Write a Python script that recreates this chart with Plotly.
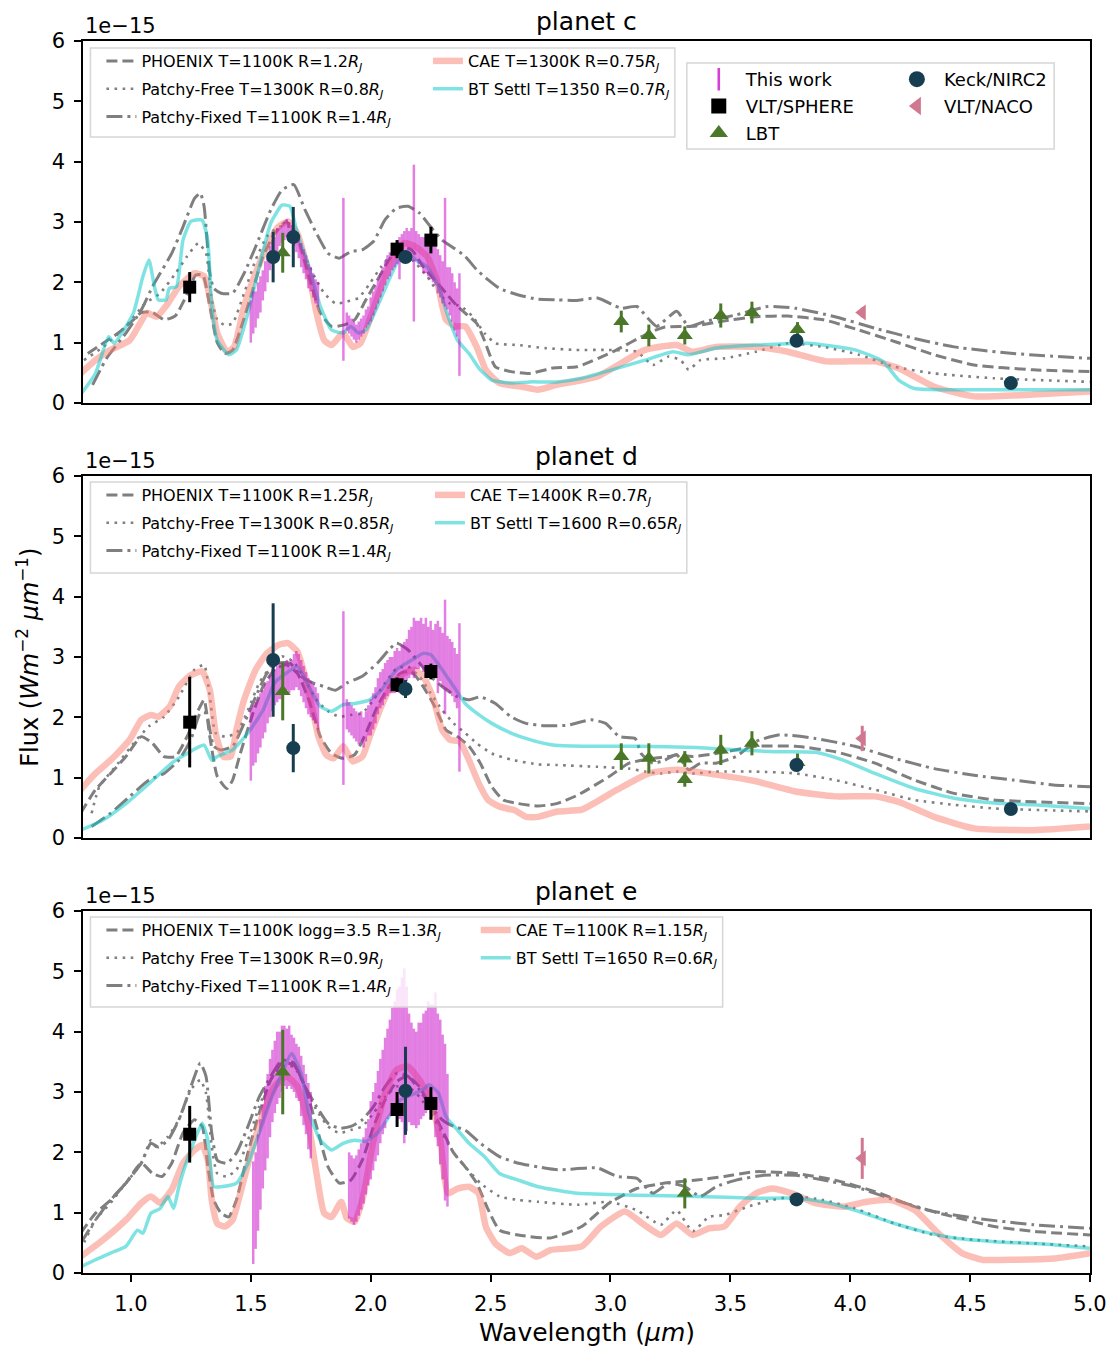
import plotly.graph_objects as go

# ---------------- DATA (flux in units of 1e-15 W m^-2 um^-1) ----------------
# ---- planet c : models ----
c_phoenix_wl = [0.82,0.884,0.947,1.011,1.043,1.09,1.138,1.186,1.234,1.27,1.3,1.329,1.36,1.392,1.424,1.456,1.504,1.551,1.599,1.647,1.694,1.742,1.79,1.837,1.885,1.933,1.98,2.028,2.076,2.124,2.17,2.219,2.267,2.314,2.362,2.394,2.442,2.474,2.52,2.585,2.664,2.76,2.86,3.01,3.16,3.227,3.342,3.458,3.607,3.74,3.888,4.036,4.185,4.35,4.516,4.764,5.0]
c_phoenix_f = [0.82,0.99,1.16,1.38,1.5,1.5,1.38,1.45,1.8,2.12,2.12,1.6,1.0,0.82,0.88,1.21,1.82,2.43,2.81,3.01,2.76,2.1,1.49,1.27,1.29,1.38,1.71,2.04,2.37,2.59,2.54,2.26,2.04,1.82,1.6,1.49,1.32,1.04,0.6,0.52,0.49,0.58,0.6,0.85,1.16,1.26,1.27,1.35,1.43,1.44,1.38,1.21,1.02,0.8,0.63,0.55,0.52]
c_pfree_wl = [0.804,0.884,0.979,1.059,1.122,1.186,1.234,1.281,1.313,1.337,1.36,1.392,1.424,1.472,1.52,1.567,1.615,1.663,1.71,1.758,1.806,1.853,1.901,1.949,1.996,2.044,2.092,2.14,2.187,2.235,2.283,2.33,2.378,2.426,2.474,2.52,2.616,2.727,2.855,2.98,3.11,3.177,3.243,3.293,3.326,3.375,3.475,3.607,3.74,3.888,4.036,4.185,4.35,4.6,5.0]
c_pfree_f = [0.71,0.93,1.27,1.65,1.82,2.15,2.43,2.65,2.48,1.71,1.38,1.29,1.32,1.82,2.37,2.76,2.92,2.92,2.59,2.15,1.82,1.65,1.68,1.74,1.98,2.26,2.48,2.48,2.32,2.1,1.82,1.65,1.6,1.43,1.16,0.99,0.96,0.91,0.88,0.88,0.85,0.63,0.77,0.71,0.55,0.71,0.74,0.85,0.99,0.93,0.8,0.6,0.49,0.41,0.35]
c_pfix_wl = [0.84,0.9,0.979,1.043,1.09,1.122,1.17,1.217,1.265,1.289,1.305,1.329,1.345,1.376,1.424,1.472,1.52,1.583,1.63,1.679,1.726,1.774,1.822,1.869,1.917,1.965,2.012,2.06,2.108,2.155,2.203,2.25,2.298,2.346,2.394,2.442,2.49,2.537,2.616,2.696,2.78,2.855,2.946,3.014,3.045,3.11,3.157,3.193,3.276,3.326,3.392,3.524,3.656,3.772,3.937,4.103,4.268,4.433,4.68,5.0]
c_pfix_f = [0.3,0.75,1.16,1.54,1.93,2.15,2.48,2.92,3.39,3.48,3.26,2.15,1.9,1.82,1.82,2.15,2.59,3.2,3.53,3.62,3.2,2.81,2.48,2.4,2.51,2.54,2.68,3.04,3.23,3.26,3.15,2.92,2.7,2.57,2.43,2.21,2.04,1.9,1.79,1.72,1.71,1.7,1.74,1.62,1.57,1.6,1.4,1.27,1.52,1.27,1.35,1.46,1.6,1.57,1.43,1.24,1.07,0.93,0.82,0.74]
c_cae_wl = [0.79,0.852,0.915,0.995,1.067,1.106,1.154,1.2,1.265,1.305,1.337,1.36,1.4,1.43,1.472,1.52,1.567,1.615,1.655,1.694,1.742,1.774,1.806,1.837,1.885,1.925,1.957,1.996,2.044,2.092,2.14,2.187,2.235,2.275,2.314,2.354,2.394,2.442,2.48,2.537,2.632,2.696,2.775,2.946,3.144,3.276,3.34,3.44,3.607,3.74,3.9,4.103,4.2,4.35,4.516,4.764,5.0]
c_cae_f = [0.49,0.71,0.88,1.04,1.49,1.43,1.65,1.93,2.15,2.1,1.6,1.16,0.85,0.93,1.6,2.15,2.59,2.92,3.01,2.81,2.15,1.49,1.04,0.96,1.16,0.93,0.99,1.38,1.93,2.37,2.65,2.59,2.43,2.04,1.38,1.27,1.27,0.93,0.55,0.33,0.27,0.22,0.3,0.44,0.88,0.96,0.85,0.93,0.93,0.85,0.69,0.69,0.58,0.27,0.11,0.14,0.19]
c_bt_wl = [0.79,0.852,0.907,0.93,1.01,1.05,1.075,1.098,1.114,1.146,1.16,1.19,1.217,1.25,1.297,1.32,1.337,1.36,1.408,1.44,1.488,1.535,1.583,1.63,1.663,1.694,1.742,1.79,1.837,1.885,1.917,1.949,1.98,2.028,2.076,2.116,2.155,2.187,2.235,2.283,2.323,2.362,2.41,2.457,2.505,2.585,2.664,2.775,2.88,3.144,3.26,3.326,3.44,3.607,3.82,4.02,4.136,4.202,4.268,4.516,5.0]
c_bt_f = [0.14,0.49,1.1,0.99,1.49,2.1,2.37,1.93,1.71,1.71,1.9,1.93,2.7,3.01,3.03,2.7,1.6,1.04,0.8,0.88,1.49,2.26,2.98,3.28,3.26,2.81,2.26,1.6,1.21,1.16,1.27,1.16,1.21,1.6,2.04,2.37,2.48,2.37,2.26,1.93,1.43,1.04,0.82,0.55,0.38,0.33,0.35,0.35,0.41,0.71,0.85,0.8,0.91,0.96,0.99,0.88,0.69,0.38,0.24,0.22,0.22]

# ---- planet d : models ----
d_phoenix_wl = [0.79,0.852,0.915,0.979,1.043,1.09,1.138,1.186,1.234,1.281,1.305,1.329,1.36,1.4,1.424,1.456,1.504,1.551,1.599,1.647,1.694,1.742,1.79,1.837,1.885,1.933,1.98,2.028,2.076,2.124,2.17,2.219,2.267,2.314,2.362,2.41,2.457,2.505,2.553,2.616,2.698,2.775,2.863,2.995,3.078,3.177,3.243,3.276,3.342,3.44,3.607,3.772,3.937,4.103,4.268,4.433,4.6,4.764,5.0]
d_phoenix_f = [0.41,0.8,1.07,1.35,1.68,1.57,1.35,1.35,1.68,2.12,2.29,1.68,1.02,0.82,0.96,1.4,2.01,2.51,2.79,2.87,2.73,2.29,1.68,1.4,1.32,1.38,1.74,2.18,2.51,2.73,2.76,2.51,2.18,1.79,1.68,1.52,1.24,0.85,0.63,0.57,0.53,0.57,0.71,1.02,1.24,1.32,1.35,1.38,1.35,1.4,1.52,1.52,1.43,1.24,0.96,0.74,0.63,0.6,0.57]
d_pfree_wl = [0.836,0.868,0.947,1.011,1.075,1.138,1.2,1.265,1.305,1.329,1.353,1.392,1.44,1.488,1.535,1.583,1.63,1.679,1.726,1.774,1.822,1.869,1.917,1.965,2.012,2.06,2.108,2.155,2.203,2.25,2.298,2.346,2.394,2.442,2.505,2.585,2.698,2.78,2.946,3.078,3.144,3.21,3.276,3.342,3.44,3.607,3.772,3.937,4.103,4.268,4.433,4.6,5.0]
d_pfree_f = [0.41,0.85,1.24,1.57,1.85,2.01,2.34,2.79,2.87,2.34,1.74,1.68,1.74,2.12,2.57,2.84,3.01,2.92,2.62,2.29,2.1,2.01,2.04,2.07,2.29,2.57,2.81,2.84,2.68,2.4,2.12,1.9,1.74,1.57,1.4,1.3,1.22,1.21,1.18,1.15,1.1,1.07,1.1,1.07,1.1,1.1,1.07,0.96,0.8,0.63,0.55,0.49,0.44]
d_pfix_wl = [0.836,0.915,0.995,1.075,1.138,1.2,1.25,1.289,1.313,1.345,1.376,1.424,1.472,1.52,1.567,1.615,1.663,1.71,1.758,1.806,1.853,1.901,1.965,2.028,2.076,2.108,2.155,2.203,2.25,2.298,2.362,2.41,2.457,2.52,2.585,2.648,2.727,2.823,2.918,2.98,3.037,3.103,3.128,3.177,3.226,3.276,3.326,3.375,3.44,3.524,3.607,3.706,3.855,4.02,4.185,4.35,4.516,4.68,4.847,5.0]
d_pfix_f = [0.19,0.41,0.69,0.96,1.07,1.29,1.63,2.07,2.07,1.52,1.46,1.52,1.9,2.34,2.73,2.9,2.9,2.68,2.57,2.51,2.45,2.57,2.68,2.9,3.12,3.23,3.12,2.9,2.68,2.51,2.34,2.29,2.34,2.23,2.01,1.9,1.86,1.87,1.96,1.9,1.68,1.65,1.4,1.24,1.29,1.38,1.13,1.24,1.24,1.35,1.6,1.71,1.65,1.52,1.32,1.15,1.04,0.96,0.88,0.85]
d_cae_wl = [0.79,0.852,0.915,0.995,1.043,1.083,1.114,1.162,1.2,1.25,1.297,1.329,1.353,1.385,1.416,1.44,1.472,1.52,1.567,1.615,1.655,1.694,1.726,1.758,1.782,1.814,1.845,1.885,1.925,1.965,1.996,2.044,2.092,2.14,2.18,2.219,2.259,2.298,2.33,2.37,2.41,2.45,2.49,2.537,2.6,2.648,2.698,2.78,2.88,3.028,3.16,3.276,3.44,3.607,3.772,3.937,4.103,4.202,4.35,4.516,4.764,5.0]
d_cae_f = [0.8,1.07,1.29,1.63,1.96,2.04,2.01,2.18,2.51,2.7,2.76,2.45,1.74,1.35,1.35,1.79,2.29,2.79,3.06,3.2,3.23,3.09,2.68,2.12,1.68,1.38,1.32,1.52,1.27,1.35,1.68,2.18,2.57,2.73,2.79,2.68,2.34,1.79,1.63,1.6,1.29,0.91,0.63,0.52,0.46,0.35,0.35,0.44,0.47,0.8,1.07,1.13,1.05,0.94,0.77,0.69,0.69,0.6,0.35,0.16,0.13,0.19]
d_bt_wl = [0.79,0.884,0.979,1.075,1.17,1.234,1.305,1.337,1.36,1.424,1.488,1.551,1.599,1.647,1.694,1.742,1.79,1.837,1.885,1.933,1.996,2.044,2.108,2.172,2.219,2.25,2.298,2.346,2.394,2.442,2.505,2.585,2.664,2.76,2.886,3.11,3.36,3.524,3.69,3.855,3.97,4.103,4.268,4.433,4.6,4.764,5.0]
d_bt_f = [0.13,0.3,0.57,0.9,1.24,1.4,1.54,1.29,1.35,1.46,1.74,2.12,2.57,2.73,2.84,2.51,2.18,2.1,2.21,2.23,2.29,2.45,2.79,2.95,3.06,3.04,2.79,2.51,2.23,2.07,1.9,1.74,1.63,1.54,1.52,1.52,1.5,1.46,1.43,1.42,1.29,1.07,0.82,0.66,0.58,0.55,0.49]

# ---- planet e : models ----
e_phoenix_wl = [0.79,0.852,0.915,0.979,1.043,1.09,1.13,1.17,1.217,1.265,1.297,1.321,1.345,1.376,1.408,1.44,1.488,1.535,1.583,1.63,1.679,1.726,1.774,1.822,1.869,1.917,1.965,2.012,2.06,2.108,2.155,2.203,2.25,2.298,2.346,2.394,2.442,2.49,2.537,2.615,2.748,2.88,2.995,3.11,3.227,3.36,3.475,3.607,3.772,3.937,4.103,4.268,4.433,4.6,4.764,5.0]
e_phoenix_f = [0.66,0.99,1.21,1.49,1.82,1.65,1.6,1.82,2.32,2.54,2.43,1.76,1.21,0.99,0.93,1.21,1.99,2.65,3.2,3.48,3.45,3.09,2.43,1.76,1.49,1.54,1.87,2.43,2.87,3.17,3.26,3.09,2.76,2.37,1.99,1.76,1.49,1.05,0.71,0.63,0.58,0.77,1.16,1.4,1.49,1.54,1.6,1.68,1.65,1.54,1.35,1.1,0.93,0.77,0.69,0.63]
e_pfree_wl = [0.79,0.852,0.915,0.979,1.043,1.083,1.106,1.154,1.2,1.25,1.289,1.313,1.337,1.36,1.4,1.44,1.488,1.535,1.583,1.63,1.679,1.726,1.774,1.822,1.869,1.917,1.965,2.012,2.06,2.108,2.155,2.203,2.25,2.298,2.346,2.394,2.457,2.537,2.616,2.698,2.863,2.995,3.11,3.21,3.276,3.343,3.41,3.475,3.574,3.673,3.772,3.888,4.02,4.185,4.35,4.516,4.764,5.0]
e_pfree_f = [0.38,0.88,1.16,1.49,1.82,2.2,2.09,2.26,2.54,3.04,3.2,2.98,2.09,1.65,1.6,1.71,2.2,2.76,3.2,3.42,3.42,3.09,2.7,2.43,2.32,2.37,2.43,2.65,2.92,3.09,3.09,2.92,2.65,2.32,1.99,1.76,1.49,1.27,1.21,1.18,1.13,1.18,1.04,0.8,1.04,0.69,0.93,0.96,1.1,1.21,1.27,1.21,1.07,0.82,0.63,0.55,0.49,0.44]
e_pfix_wl = [0.79,0.852,0.915,0.979,1.043,1.083,1.114,1.154,1.2,1.25,1.289,1.313,1.337,1.36,1.4,1.44,1.488,1.535,1.583,1.63,1.679,1.726,1.774,1.822,1.869,1.917,1.965,2.012,2.06,2.108,2.155,2.203,2.25,2.298,2.346,2.394,2.457,2.537,2.616,2.696,2.78,2.946,3.028,3.11,3.177,3.243,3.31,3.375,3.44,3.524,3.64,3.772,3.888,4.02,4.185,4.35,4.516,4.764,5.0]
e_pfix_f = [0.49,0.88,1.21,1.49,1.82,2.15,2.09,2.2,2.54,3.09,3.48,3.26,2.32,1.87,1.82,1.99,2.43,2.92,3.26,3.53,3.48,3.09,2.76,2.48,2.4,2.43,2.54,2.76,3.09,3.31,3.26,3.04,2.76,2.54,2.43,2.37,2.15,1.93,1.82,1.76,1.71,1.74,1.6,1.57,1.32,1.49,1.43,1.27,1.43,1.54,1.62,1.62,1.54,1.43,1.21,1.02,0.91,0.8,0.74]
e_cae_wl = [0.79,0.884,0.979,1.043,1.083,1.122,1.17,1.217,1.265,1.297,1.321,1.337,1.36,1.392,1.424,1.456,1.504,1.551,1.599,1.647,1.694,1.742,1.774,1.806,1.837,1.877,1.9,1.933,1.965,2.012,2.06,2.108,2.155,2.203,2.25,2.29,2.322,2.362,2.41,2.45,2.48,2.52,2.58,2.63,2.69,2.75,2.88,2.96,3.06,3.14,3.21,3.276,3.343,3.41,3.475,3.54,3.607,3.673,3.756,3.855,3.97,4.07,4.17,4.27,4.367,4.466,4.55,4.68,4.847,5.0]
e_cae_f = [0.27,0.55,0.88,1.16,1.27,1.16,1.38,1.82,2.04,2.12,1.87,1.21,0.82,0.77,0.88,1.32,2.04,2.65,3.09,3.26,3.09,2.43,1.65,0.99,0.93,1.18,0.91,0.85,1.21,2.2,2.98,3.37,3.42,3.2,2.87,2.2,1.32,1.4,1.43,1.32,0.77,0.49,0.33,0.41,0.27,0.38,0.44,0.77,1.02,0.8,0.63,0.82,0.63,0.74,0.77,1.1,1.32,1.4,1.32,1.16,1.1,1.18,1.21,1.04,0.66,0.33,0.22,0.22,0.24,0.33]
e_bt_wl = [0.79,0.852,0.915,0.979,1.027,1.05,1.083,1.122,1.154,1.178,1.2,1.234,1.265,1.297,1.321,1.345,1.376,1.44,1.488,1.535,1.583,1.63,1.67,1.71,1.742,1.79,1.837,1.885,1.933,1.98,2.028,2.076,2.124,2.17,2.219,2.243,2.283,2.314,2.362,2.41,2.474,2.537,2.615,2.698,2.863,3.11,3.36,3.607,3.772,3.888,4.02,4.185,4.3,4.433,4.6,4.847,5.0]
e_bt_f = [0.1,0.22,0.33,0.44,0.71,0.66,0.99,1.07,1.27,1.07,1.43,1.87,2.2,2.48,2.2,1.43,1.43,1.49,1.82,2.32,2.87,3.31,3.64,3.31,2.65,2.2,2.04,2.15,2.2,2.18,2.32,2.59,2.87,2.95,3.04,3.12,2.98,2.59,2.37,2.15,1.93,1.65,1.54,1.43,1.32,1.29,1.27,1.24,1.24,1.18,1.04,0.82,0.69,0.58,0.52,0.47,0.41]

# ---- "This work" spectra ----
c_spec_wl = [1.50,1.51,1.52,1.53,1.54,1.55,1.56,1.57,1.58,1.59,1.60,1.61,1.62,1.63,1.64,1.65,1.66,1.67,1.68,1.69,1.70,1.71,1.72,1.73,1.74,1.75,1.76,1.77,1.78,
             1.886,1.90,1.91,1.92,1.93,1.94,1.95,1.96,1.97,1.98,1.99,2.00,2.01,2.02,2.03,2.04,2.05,2.06,2.07,2.08,2.09,2.10,2.11,2.12,2.13,2.14,2.15,2.16,2.17,2.18,2.19,2.20,2.21,2.22,2.23,2.24,2.25,2.26,2.27,2.28,2.29,2.30,2.31,2.32,2.33,2.34,2.35,2.36,2.37]
c_spec_f = [1.35,1.5,1.55,1.7,1.8,1.95,2.1,2.2,2.4,2.5,2.55,2.7,2.75,2.8,2.85,2.9,2.85,2.8,2.75,2.65,2.55,2.45,2.35,2.25,2.1,2.05,1.95,1.85,1.8,
            2.05,1.35,1.3,1.25,1.2,1.15,1.2,1.25,1.3,1.4,1.45,1.55,1.65,1.75,1.85,1.95,2.05,2.15,2.25,2.3,2.4,2.45,2.5,2.4,2.6,2.6,2.65,2.6,2.65,2.65,2.6,2.55,2.5,2.45,2.45,2.4,2.35,2.3,2.3,2.2,2.1,2.0,2.5,1.9,1.85,1.75,1.6,1.5,1.3]
c_spec_e = [0.35,0.35,0.3,0.3,0.3,0.25,0.25,0.2,0.2,0.2,0.2,0.2,0.15,0.15,0.15,0.15,0.15,0.15,0.15,0.15,0.15,0.2,0.2,0.2,0.2,0.2,0.2,0.2,0.2,
            1.35,0.15,0.15,0.15,0.15,0.15,0.15,0.15,0.15,0.15,0.15,0.2,0.2,0.2,0.2,0.2,0.2,0.2,0.2,0.2,0.2,0.2,0.2,0.35,0.2,0.25,0.25,0.25,0.25,1.3,0.25,0.25,0.25,0.3,0.3,0.3,0.3,0.3,0.35,0.35,0.35,0.35,0.9,0.35,0.4,0.4,0.4,0.4,0.85]
d_spec_wl = [1.50,1.51,1.52,1.53,1.54,1.55,1.56,1.57,1.58,1.59,1.60,1.61,1.62,1.63,1.64,1.65,1.66,1.67,1.68,1.69,1.70,1.71,1.72,1.73,1.74,1.75,1.76,1.77,1.78,
             1.886,1.90,1.91,1.92,1.93,1.94,1.95,1.96,1.97,1.98,1.99,2.00,2.01,2.02,2.03,2.04,2.05,2.06,2.07,2.08,2.09,2.10,2.11,2.12,2.13,2.14,2.15,2.16,2.17,2.18,2.19,2.20,2.21,2.22,2.23,2.24,2.25,2.26,2.27,2.28,2.29,2.30,2.31,2.32,2.33,2.34,2.35,2.36,2.37]
d_spec_f = [1.55,1.7,1.75,1.85,1.95,2.05,2.15,2.25,2.35,2.45,2.5,2.55,2.6,2.6,2.65,2.7,2.65,2.7,2.75,2.8,2.75,2.65,2.55,2.45,2.35,2.3,2.25,2.2,2.1,
            2.32,2.05,2.0,1.95,1.9,1.85,1.8,1.85,1.75,1.85,1.95,2.0,2.1,2.2,2.35,2.45,2.5,2.6,2.65,2.7,2.7,2.75,2.8,2.75,2.85,2.9,2.95,3.05,3.1,3.15,3.2,3.2,3.25,3.15,3.2,3.1,3.15,3.05,3.1,3.0,3.05,2.95,3.0,2.9,2.85,2.8,2.7,2.6,2.33]
d_spec_e = [0.6,0.5,0.5,0.45,0.45,0.4,0.4,0.35,0.35,0.35,0.3,0.3,0.3,0.3,0.25,0.25,0.25,0.25,0.3,0.3,0.3,0.3,0.3,0.3,0.3,0.3,0.3,0.3,0.3,
            1.44,0.25,0.25,0.25,0.25,0.25,0.25,0.25,0.25,0.25,0.25,0.3,0.3,0.3,0.3,0.3,0.3,0.3,0.3,0.3,0.3,0.35,0.35,0.35,0.35,0.35,0.35,0.4,0.4,0.5,0.4,0.4,0.4,0.4,0.45,0.4,0.45,0.4,0.45,0.6,0.45,0.45,0.95,0.45,0.45,0.45,0.45,0.45,1.23]
e_spec_wl = [1.51,1.52,1.53,1.54,1.55,1.56,1.57,1.58,1.59,1.60,1.61,1.62,1.63,1.64,1.65,1.66,1.67,1.68,1.69,1.70,1.71,1.72,1.73,1.74,1.75,
             1.91,1.92,1.93,1.94,1.95,1.96,1.97,1.98,1.99,2.00,2.01,2.02,2.03,2.04,2.05,2.06,2.07,2.08,2.09,2.10,2.11,2.12,2.13,2.14,2.15,2.16,2.17,2.18,2.19,2.20,2.21,2.22,2.23,2.24,2.25,2.26,2.27,2.28,2.29,2.30,2.31,2.32]
e_spec_f = [1.0,1.2,1.5,1.8,2.1,2.4,2.6,2.9,3.1,3.25,3.4,3.45,3.55,3.6,3.55,3.6,3.5,3.45,3.35,3.3,3.1,2.95,2.8,2.6,2.45,
            1.45,1.4,1.35,1.4,1.5,1.6,1.7,1.85,2.0,2.2,2.35,2.5,2.65,2.85,3.0,3.15,3.3,3.4,3.55,3.6,3.7,3.65,3.7,3.6,3.55,3.4,3.3,3.25,3.2,3.3,3.35,3.45,3.5,3.6,3.55,3.6,3.45,3.2,3.0,2.75,2.5,2.2]
e_spec_e = [0.85,0.8,0.8,0.75,0.7,0.7,0.7,0.65,0.6,0.6,0.6,0.55,0.55,0.5,0.5,0.5,0.45,0.45,0.45,0.45,0.5,0.5,0.5,0.55,0.55,
            0.55,0.55,0.55,0.55,0.55,0.55,0.55,0.55,0.55,0.65,0.65,0.65,0.7,0.7,0.7,0.75,0.75,0.8,0.85,0.9,1.0,1.1,1.2,1.45,1.2,0.9,0.85,0.8,0.8,0.85,0.8,0.85,0.85,0.9,0.9,0.85,1.2,1.1,1.2,1.2,1.3,1.1]

# ---- photometry ----
sphere_wl = [1.245, 2.11, 2.251]
c_sphere_f = [1.92, 2.55, 2.70]; c_sphere_e = [0.25, 0.15, 0.22]
d_sphere_f = [1.92, 2.54, 2.76]; d_sphere_e = [0.75, 0.12, 0.13]
e_sphere_f = [2.30, 2.71, 2.81]; e_sphere_e = [0.47, 0.29, 0.27]

c_keck_wl = [1.593, 1.677, 2.145, 3.776, 4.67]
c_keck_f = [2.42, 2.75, 2.42, 1.03, 0.33]; c_keck_e = [0.42, 0.5, 0.08, 0.05, 0.04]
d_keck_wl = [1.593, 1.677, 2.145, 3.776, 4.67]
d_keck_f = [2.95, 1.49, 2.47, 1.21, 0.48]; d_keck_e = [0.94, 0.4, 0.15, 0.05, 0.05]
e_keck_wl = [2.145, 3.776]
e_keck_f = [3.02, 1.22]; e_keck_e = [0.73, 0.04]

c_lbt_wl = [1.633, 3.045, 3.16, 3.31, 3.46, 3.59, 3.78]
c_lbt_f = [2.49, 1.35, 1.12, 1.12, 1.45, 1.50, 1.22]; c_lbt_e = [0.33, 0.18, 0.18, 0.15, 0.2, 0.18, 0.12]
d_lbt_wl = [1.633, 3.045, 3.16, 3.31, 3.31, 3.46, 3.59, 3.78]
d_lbt_f = [2.43, 1.35, 1.32, 1.31, 0.97, 1.46, 1.57, 1.25]; d_lbt_e = [0.48, 0.22, 0.25, 0.13, 0.12, 0.25, 0.2, 0.15]
e_lbt_wl = [1.633, 3.31]
e_lbt_f = [3.33, 1.32]; e_lbt_e = [0.7, 0.25]

naco_wl = [4.05]
c_naco_f = [1.50]; c_naco_e = [0.08]
d_naco_f = [1.65]; d_naco_e = [0.21]
e_naco_f = [1.90]; e_naco_e = [0.34]

c_labels = ["PHOENIX T=1100K R=1.2<i>R<sub>J</sub></i>", "Patchy-Free T=1300K R=0.8<i>R<sub>J</sub></i>",
            "Patchy-Fixed T=1100K R=1.4<i>R<sub>J</sub></i>", "CAE T=1300K R=0.75<i>R<sub>J</sub></i>",
            "BT Settl T=1350 R=0.7<i>R<sub>J</sub></i>"]
d_labels = ["PHOENIX T=1100K R=1.25<i>R<sub>J</sub></i>", "Patchy-Free T=1300K R=0.85<i>R<sub>J</sub></i>",
            "Patchy-Fixed T=1100K R=1.4<i>R<sub>J</sub></i>", "CAE T=1400K R=0.7<i>R<sub>J</sub></i>",
            "BT Settl T=1600 R=0.65<i>R<sub>J</sub></i>"]
e_labels = ["PHOENIX T=1100K logg=3.5 R=1.3<i>R<sub>J</sub></i>", "Patchy Free T=1300K R=0.9<i>R<sub>J</sub></i>",
            "Patchy-Fixed T=1100K R=1.4<i>R<sub>J</sub></i>", "CAE T=1100K R=1.15<i>R<sub>J</sub></i>",
            "BT Settl T=1650 R=0.6<i>R<sub>J</sub></i>"]
titles = ["planet c", "planet d", "planet e"]
x_ticks = [1.0, 1.5, 2.0, 2.5, 3.0, 3.5, 4.0, 4.5, 5.0]

# ---------------- STYLE ----------------
W, H = 1119, 1348
ML, MR, MT, MB = 82.5, 25, 41, 75
PW, PH = W - ML - MR, H - MT - MB
FONT = "DejaVu Sans"
GRAY = "#7f7f7f"
CAE_C = "rgba(250,128,114,0.5)"
BT_C = "rgba(0,200,200,0.5)"
MAG = "rgba(200,0,200,0.5)"
KECK = "#163e50"
LBT = "#4b7828"
NACO = "#d07890"

def px(X):
    return (X - ML) / PW

def py(Y):
    return (H - MB - Y) / PH

panel_h = 362
gap = 73
domains = [(py(MT + panel_h), 1.0),
           (py(MT + 2 * panel_h + gap), py(MT + panel_h + gap)),
           (0.0, py(MT + 2 * panel_h + 2 * gap))]

styles = [dict(color=GRAY, width=3, dash="11px,5px"),
          dict(color=GRAY, width=2.6, dash="2.6px,5.5px"),
          dict(color=GRAY, width=3, dash="16px,5px,3px,5px"),
          dict(color=CAE_C, width=6.5),
          dict(color=BT_C, width=3.5)]

fig = go.Figure()

panels = [
    dict(models=[(c_phoenix_wl, c_phoenix_f), (c_pfree_wl, c_pfree_f), (c_pfix_wl, c_pfix_f),
                 (c_cae_wl, c_cae_f), (c_bt_wl, c_bt_f)], labels=c_labels,
         spec=(c_spec_wl, c_spec_f, c_spec_e),
         sphere=(sphere_wl, c_sphere_f, c_sphere_e), keck=(c_keck_wl, c_keck_f, c_keck_e),
         lbt=(c_lbt_wl, c_lbt_f, c_lbt_e), naco=(naco_wl, c_naco_f, c_naco_e),
         legs=("legend", "legend2")),
    dict(models=[(d_phoenix_wl, d_phoenix_f), (d_pfree_wl, d_pfree_f), (d_pfix_wl, d_pfix_f),
                 (d_cae_wl, d_cae_f), (d_bt_wl, d_bt_f)], labels=d_labels,
         spec=(d_spec_wl, d_spec_f, d_spec_e),
         sphere=(sphere_wl, d_sphere_f, d_sphere_e), keck=(d_keck_wl, d_keck_f, d_keck_e),
         lbt=(d_lbt_wl, d_lbt_f, d_lbt_e), naco=(naco_wl, d_naco_f, d_naco_e),
         legs=("legend5", "legend6")),
    dict(models=[(e_phoenix_wl, e_phoenix_f), (e_pfree_wl, e_pfree_f), (e_pfix_wl, e_pfix_f),
                 (e_cae_wl, e_cae_f), (e_bt_wl, e_bt_f)], labels=e_labels,
         spec=(e_spec_wl, e_spec_f, e_spec_e),
         sphere=(sphere_wl, e_sphere_f, e_sphere_e), keck=(e_keck_wl, e_keck_f, e_keck_e),
         lbt=(e_lbt_wl, e_lbt_f, e_lbt_e), naco=(naco_wl, e_naco_f, e_naco_e),
         legs=("legend7", "legend8")),
]

def eb(arr, color, th=3):
    return dict(type="data", array=arr, visible=True, color=color, thickness=th, width=0)

for i, p in enumerate(panels):
    xa = "x" if i == 0 else f"x{i+1}"
    ya = "y" if i == 0 else f"y{i+1}"
    for k, ((wl, f), lab, st) in enumerate(zip(p["models"], p["labels"], styles)):
        fig.add_trace(go.Scatter(x=wl, y=f, mode="lines", name=lab, line=dict(**st, shape="spline", smoothing=0.5),
                                 xaxis=xa, yaxis=ya, legend=p["legs"][0] if k < 3 else p["legs"][1],
                                 legendgroup=f"g{i}{k}", showlegend=True, hoverinfo="skip"))
    wl, f, e = p["spec"]
    fig.add_trace(go.Scatter(x=wl, y=f, mode="markers", marker=dict(size=2, color="rgba(200,0,200,0)"),
                             error_y=eb(e, MAG, 2.5), xaxis=xa, yaxis=ya, showlegend=False))
    wl, f, e = p["sphere"]
    fig.add_trace(go.Scatter(x=wl, y=f, mode="markers", marker=dict(symbol="square", size=13, color="black"),
                             error_y=eb(e, "black"), xaxis=xa, yaxis=ya, showlegend=False))
    wl, f, e = p["lbt"]
    fig.add_trace(go.Scatter(x=wl, y=f, mode="markers", marker=dict(symbol="triangle-up", size=14, color=LBT),
                             error_y=eb(e, LBT), xaxis=xa, yaxis=ya, showlegend=False))
    wl, f, e = p["keck"]
    fig.add_trace(go.Scatter(x=wl, y=f, mode="markers", marker=dict(symbol="circle", size=14, color=KECK),
                             error_y=eb(e, KECK), xaxis=xa, yaxis=ya, showlegend=False))
    wl, f, e = p["naco"]
    fig.add_trace(go.Scatter(x=wl, y=f, mode="markers", marker=dict(symbol="triangle-left", size=14, color=NACO),
                             error_y=eb(e, NACO), xaxis=xa, yaxis=ya, showlegend=False))

# data legend (top panel only)
leg_items = [("This work", dict(symbol="line-ns", size=18, line=dict(width=2.6, color="rgba(200,0,200,0.75)")), "legend3"),
             ("VLT/SPHERE", dict(symbol="square", size=15, color="black"), "legend3"),
             ("LBT", dict(symbol="triangle-up", size=16, color=LBT), "legend3"),
             ("Keck/NIRC2", dict(symbol="circle", size=16, color=KECK), "legend4"),
             ("VLT/NACO", dict(symbol="triangle-left", size=16, color=NACO), "legend4")]
for j, (nm, mk, lg) in enumerate(leg_items):
    fig.add_trace(go.Scatter(x=[None], y=[None], mode="markers", marker=mk, name=nm, legend=lg,
                             legendgroup=f"d{j}", xaxis="x", yaxis="y"))

def legcfg(X, Y, gapv=4, iw=30, fs=16):
    return dict(x=px(X), y=py(Y), xanchor="left", yanchor="top", bgcolor="rgba(0,0,0,0)",
                borderwidth=0, font=dict(family=FONT, size=fs, color="black"),
                traceorder="grouped", tracegroupgap=gapv, itemwidth=iw)

axis_common = dict(showline=True, linecolor="black", linewidth=1.5, mirror=True, showgrid=False, zeroline=False)
layout = dict(
    width=W, height=H, margin=dict(l=ML, r=MR, t=MT, b=MB),
    paper_bgcolor="white", plot_bgcolor="white", font=dict(family=FONT, color="black"),
    legend=legcfg(101, 44), legend2=legcfg(429, 44),
    legend3=legcfg(694, 61, 0.5, 44, 18), legend4=legcfg(893, 61, 0.5, 44, 18),
    legend5=legcfg(101, 478), legend6=legcfg(431, 478), legend7=legcfg(101, 913), legend8=legcfg(477, 913),
)
for i in range(3):
    xk = "xaxis" if i == 0 else f"xaxis{i+1}"
    yk = "yaxis" if i == 0 else f"yaxis{i+1}"
    ya = "y" if i == 0 else f"y{i+1}"
    xa = "x" if i == 0 else f"x{i+1}"
    xd = dict(axis_common, domain=[0, 1], anchor=ya, range=[0.8, 5.0], tickvals=x_ticks,
              ticktext=[f"{v:.1f}" for v in x_ticks])
    if i > 0:
        xd["matches"] = "x"
    if i < 2:
        xd.update(showticklabels=False, ticks="")
    else:
        xd.update(ticks="outside", ticklen=7, tickwidth=1.5, tickcolor="black",
                  tickfont=dict(family=FONT, size=21), ticklabelstandoff=4)
    layout[xk] = xd
    layout[yk] = dict(axis_common, domain=list(domains[i]), anchor=xa, range=[0, 6],
                      tickvals=[0, 1, 2, 3, 4, 5, 6], ticktext=[str(v) for v in range(7)],
                      ticks="outside", ticklen=7, tickwidth=1.5, tickcolor="black",
                      tickfont=dict(family=FONT, size=21), ticklabelstandoff=5)
fig.update_layout(**layout)

# legend frames
frames = [(90, 48, 677, 137), (689, 63, 1058, 149), (90, 482, 689, 573), (90, 917, 725, 1007)]
for (x0, y0, x1, y1) in frames:
    fig.add_shape(type="rect", xref="paper", yref="paper", x0=px(x0), x1=px(x1), y0=py(y1), y1=py(y0),
                  line=dict(color="#d6d6d6", width=1.5), fillcolor="rgba(255,255,255,0.8)", layer="above")

# titles and offset texts
for i in range(3):
    top = domains[i][1]
    fig.add_annotation(text=titles[i], xref="paper", yref="paper", x=0.5, y=top, xanchor="center",
                       yanchor="bottom", yshift=3, showarrow=False, font=dict(family=FONT, size=25))
    fig.add_annotation(text="1e\u221215", xref="paper", yref="paper", x=0, y=top, xanchor="left",
                       yanchor="bottom", yshift=1, showarrow=False, font=dict(family=FONT, size=21))

fig.add_annotation(text="Flux (<i>Wm</i><sup>\u22122</sup> <i>\u03bcm</i><sup>\u22121</sup>)", xref="paper", yref="paper",
                   x=px(27), y=py(657), xanchor="center", yanchor="middle", textangle=-90, showarrow=False,
                   font=dict(family=FONT, size=24))
fig.add_annotation(text="Wavelength (<i>\u03bcm</i>)", xref="paper", yref="paper", x=0.5, y=py(1332),
                   xanchor="center", yanchor="middle", showarrow=False, font=dict(family=FONT, size=25))

fig.write_html("out.html", config={"displayModeBar": False},
               post_script="document.body.style.margin='0';document.body.style.padding='0';")
